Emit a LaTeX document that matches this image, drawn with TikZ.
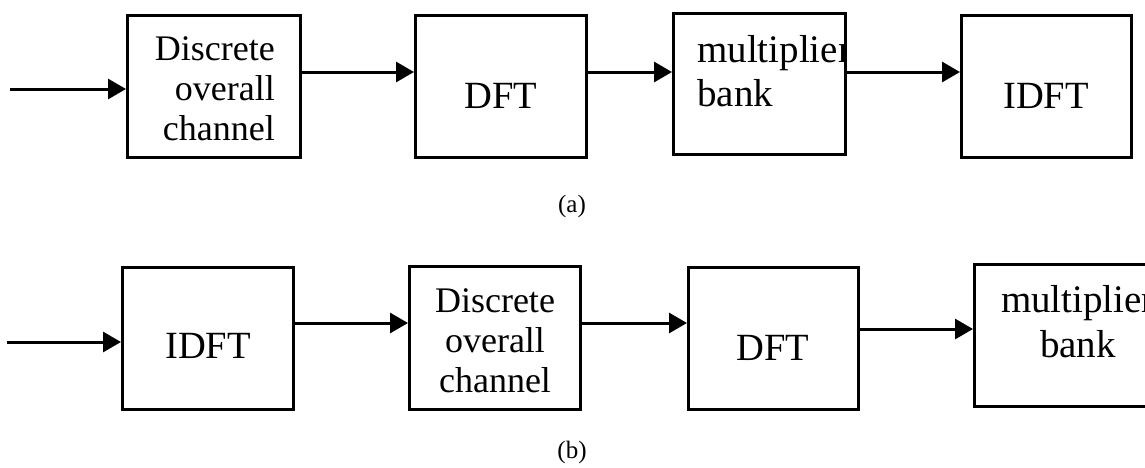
\documentclass[tikz,border=0pt]{standalone}
\usepackage{fontspec}
\setmainfont{Liberation Serif}
\usetikzlibrary{arrows.meta}
\tikzset{
  box/.style={draw, line width=3pt, inner sep=0pt, rectangle},
  arr/.style={line width=3pt, -{Triangle[length=18pt,width=20pt]}},
  txt/.style={inner sep=0pt, font=\fontsize{36}{40}\selectfont},
  multxt/.style={inner sep=0pt, font=\fontsize{39}{44}\selectfont},
  big/.style={inner sep=0pt, font=\fontsize{38.5}{40}\selectfont},
  captxt/.style={inner sep=0pt, font=\fontsize{25}{28}\selectfont}
}
\begin{document}
\begin{tikzpicture}[x=1pt,y=-1pt]
\useasboundingbox (0,0) rectangle (1145,467);
% row (a)
\node[box, minimum width=173pt, minimum height=142pt] (a1) at (214,86.5) {};
\node[box, minimum width=171pt, minimum height=142pt] (a2) at (501,86.5) {};
\node[box, minimum width=172pt, minimum height=141pt] (a3) at (759.5,84) {};
\node[box, minimum width=170pt, minimum height=142pt] (a4) at (1046.5,86.5) {};
\node[txt, anchor=base east] (t1) at (275,60) {\begin{tabular}[t]{@{}r@{}}Discrete\\overall\\channel\end{tabular}};
\node[big, anchor=base] (t2) at (501,108) {DFT};
\begin{scope}
\clip (a3.north west) rectangle (846,156);
\node[multxt, anchor=base west] (t3) at (697,62) {\begin{tabular}[t]{@{}l@{}}multiplier\\bank\end{tabular}};
\end{scope}
\node[big, anchor=base] (t4) at (1046,108) {IDFT};
\coordinate (ina) at (10,89);
\coordinate (ya) at (0,72);
\draw[arr] (ina) -- (ina -| a1.west);
\draw[arr] (a1.east |- ya) -- (a2.west |- ya);
\draw[arr] (a2.east |- ya) -- (a3.west |- ya);
\draw[arr] (a3.east |- ya) -- (a4.west |- ya);
\node[captxt, anchor=base] (la) at (572,212) {(a)};
% row (b)
\node[box, minimum width=171pt, minimum height=142pt] (b1) at (208,338.5) {};
\node[box, minimum width=171pt, minimum height=143pt] (b2) at (495,338) {};
\node[box, minimum width=170pt, minimum height=142pt] (b3) at (773.5,338.5) {};
\node[box, minimum width=174pt, minimum height=142pt] (b4) at (1061.5,335.5) {};
\node[big, anchor=base] (u1) at (208,358) {IDFT};
\node[txt, anchor=base] (u2) at (495,312) {\begin{tabular}[t]{@{}c@{}}Discrete\\overall\\channel\end{tabular}};
\node[big, anchor=base] (u3) at (773,360) {DFT};
\node[multxt, anchor=base] (u4) at (1078,312) {\fontsize{39}{45}\selectfont\begin{tabular}[t]{@{}c@{}}multiplier\\bank\end{tabular}};
\coordinate (inb) at (7,342);
\coordinate (yb) at (0,323);
\coordinate (yc) at (0,329);
\draw[arr] (inb) -- (inb -| b1.west);
\draw[arr] (b1.east |- yb) -- (b2.west |- yb);
\draw[arr] (b2.east |- yb) -- (b3.west |- yb);
\draw[arr] (b3.east |- yc) -- (b4.west |- yc);
\node[captxt, anchor=base] (lb) at (572,458) {(b)};
\end{tikzpicture}
\end{document}
